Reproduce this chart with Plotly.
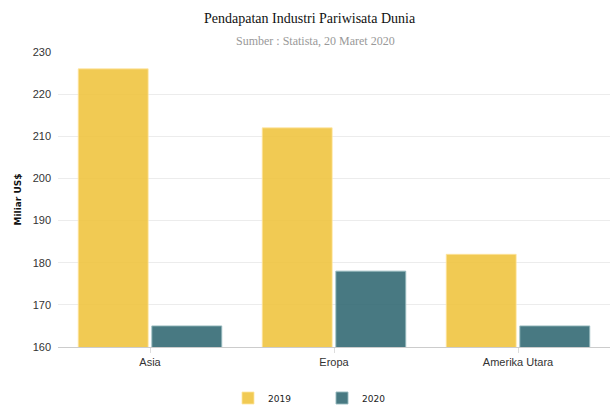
import plotly.graph_objects as go

categories = ["Asia", "Eropa", "Amerika Utara"]
values_2019 = [226, 212, 182]
values_2020 = [165, 178, 165]
y_ticks = [160, 170, 180, 190, 200, 210, 220, 230]

W, H = 616, 405
ML, MR, MT, MB = 58, 6, 52, 58

fig = go.Figure()
fig.add_trace(go.Bar(
    name="2019", x=categories, y=values_2019,
    marker=dict(color="rgba(240,196,64,0.9)", line=dict(color="rgba(255,230,160,0.8)", width=1)),
))
fig.add_trace(go.Bar(
    name="2020", x=categories, y=values_2020,
    marker=dict(color="rgba(52,106,116,0.9)", line=dict(color="rgba(150,185,190,0.9)", width=1)),
))

plot_w = W - ML - MR
plot_h = H - MT - MB


def px_x(xp):
    return (xp - ML) / plot_w


def px_y(yp):
    return 1 + (MT - yp) / plot_h


fig.update_layout(
    width=W, height=H,
    margin=dict(l=ML, r=MR, t=MT, b=MB, autoexpand=False),
    paper_bgcolor="white", plot_bgcolor="white",
    barmode="group", bargap=0.2, bargroupgap=0.05,
    font=dict(family="Liberation Sans", size=11, color="#333"),
    showlegend=True,
    legend=dict(orientation="h", x=228 / W, xref="container", xanchor="left",
                y=(H - 398) / H, yref="container", yanchor="middle",
                font=dict(size=9, family="DejaVu Sans", color="#222"),
                entrywidth=49, entrywidthmode="pixels", tracegroupgap=0),
    annotations=[
        dict(text="Pendapatan Industri Pariwisata Dunia", x=px_x(310), y=px_y(19),
             xref="paper", yref="paper", yanchor="middle", showarrow=False,
             font=dict(family="Liberation Serif", size=14, color="#111")),
        dict(text="Sumber : Statista, 20 Maret 2020", x=px_x(315), y=px_y(41),
             xref="paper", yref="paper", yanchor="middle", showarrow=False,
             font=dict(family="Liberation Serif", size=12, color="#999")),
    ],
)

fig.update_yaxes(
    range=[160, 230], tickvals=y_ticks, showgrid=True, gridcolor="#ececec", gridwidth=1,
    zeroline=False, showline=False, ticks="", ticklabelstandoff=6,
    tickfont=dict(size=11, color="#333"),
    title=dict(text="<b>Miliar US$</b>", font=dict(size=9, family="DejaVu Sans", color="#111"),
               standoff=9),
)
fig.update_xaxes(
    showline=True, linecolor="#cccccc", linewidth=1, ticks="outside", ticklen=5,
    tickcolor="#dddddd", tickfont=dict(size=11, color="#333"), showgrid=False,
)

fig.write_html("out.html")
